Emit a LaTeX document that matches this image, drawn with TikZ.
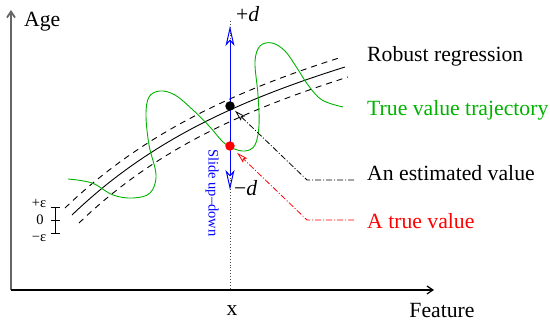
\documentclass[tikz,border=0pt]{standalone}
\usepackage{fontspec}
\setmainfont{Liberation Serif}
\usetikzlibrary{arrows.meta}
\definecolor{tgreen}{RGB}{0,178,0}
\begin{document}
\begin{tikzpicture}[x=1pt,y=-1pt,
  lbl/.style={font=\fontsize{21.7}{26}\selectfont, inner sep=0pt},
  small/.style={font=\fontsize{14.5}{17}\selectfont, inner sep=0pt},
  axisline/.style={line width=1.2pt, -{Straight Barb[length=6pt,width=8pt]}},
  band/.style={line width=0.9pt, dash pattern=on 6pt off 5pt},
  leader/.style={line width=0.8pt, dash pattern=on 6pt off 2pt on 1pt off 2pt, -{Stealth[open,length=11pt,width=6pt,inset=2pt]}},
  dotnode/.style={circle, inner sep=0pt, minimum size=9.5pt},
  slidearrow/.style={blue, line width=1pt, {Stealth[open,length=20pt,width=9pt,inset=5pt]}-{Stealth[open,length=20pt,width=9pt,inset=5pt]}},
]
\path[use as bounding box] (0,0) rectangle (550,323);

% axes
\coordinate (O) at (11,290);
\coordinate (ytop) at (11,10);
\coordinate (xend) at (434,290);
\draw[axisline, gray!80!black, line width=1.8pt] (O) -- (ytop);
\draw[axisline] (O) -- (xend);
\node[lbl, anchor=base west] (age) at (24,27) {Age};
\node[lbl, anchor=base] (feat) at (442,318) {Feature};
\node[lbl, anchor=base] (xlab) at (232,316) {x};

% dotted vertical
\coordinate (vtop) at (230,21);
\coordinate (vbot) at (230,290);
\draw[gray!60!black, dotted, line width=0.9pt] (vtop) -- (vbot);

% epsilon scale
\coordinate (ep) at (55,207);
\coordinate (e0) at (55,220);
\coordinate (em) at (55,233);
\draw[line width=0.8pt] (ep) -- (em);
\draw[line width=0.8pt] ([xshift=-4.5pt]ep) -- ([xshift=4.5pt]ep);
\draw[line width=0.8pt] ([xshift=-4.5pt]e0) -- ([xshift=4.5pt]e0);
\draw[line width=0.8pt] ([xshift=-4.5pt]em) -- ([xshift=4.5pt]em);
\node[small] (lp) at (39,203) {+ε};
\node[small] (l0) at (40,220) {0};
\node[small] (lm) at (39,238) {−ε};

% regression band
\draw[line width=0.9pt] (72,215) .. controls (150,140) and (240,100) .. (345,67);
\draw[band] (65,208) .. controls (143,133) and (235,91) .. (339,58);
\draw[band] (79,223) .. controls (157,148) and (245,110) .. (348,77);

% true value trajectory
\draw[tgreen, line width=0.9pt] plot[smooth, tension=0.6] coordinates {
 (68,179) (92,183) (113,195) (133,198) (150,193) (156,175) (149,145) (146,115)
 (149,97) (160,91) (175,95) (193,110) (210,127) (222,141) (232,148) (245,151)
 (255,145) (259,125) (258,95) (255,62) (260,46) (272,43) (285,51) (297,68)
 (308,85) (322,100) (343,107)};

% slide arrow
\coordinate (atop) at (230,26);
\coordinate (abot) at (230,190);
\draw[slidearrow] (atop) -- (abot);
\node[lbl, anchor=base west] (pd) at (236,22) {+\textit{d}};
\node[lbl, anchor=west] (md) at (234,188) {−\textit{d}};
\node[small, blue, rotate=-90] (slide) at (212,193) {Slide up–down};

% dots
\node[dotnode, fill=black] (bdot) at (230,106) {};
\node[dotnode, fill=red] (rdot) at (230,146) {};

% labels
\node[lbl, anchor=base west] (rr) at (367,62) {Robust regression};
\node[lbl, anchor=base west, text=tgreen] (tv) at (367,116) {True value trajectory};
\node[lbl, anchor=base west] (ev) at (367,181) {An estimated value};
\node[lbl, anchor=base west, text=red] (atv) at (367,229) {A true value};

% leaders
\coordinate (e1) at (354,180);
\coordinate (e2) at (307,180);
\coordinate (r1) at (354,220);
\coordinate (r2) at (307,220);
\draw[leader, shorten >=2pt] (e1) -- (e2) -- (bdot);
\draw[leader, red, shorten >=5pt] (r1) -- (r2) -- (rdot);
\end{tikzpicture}
\end{document}
